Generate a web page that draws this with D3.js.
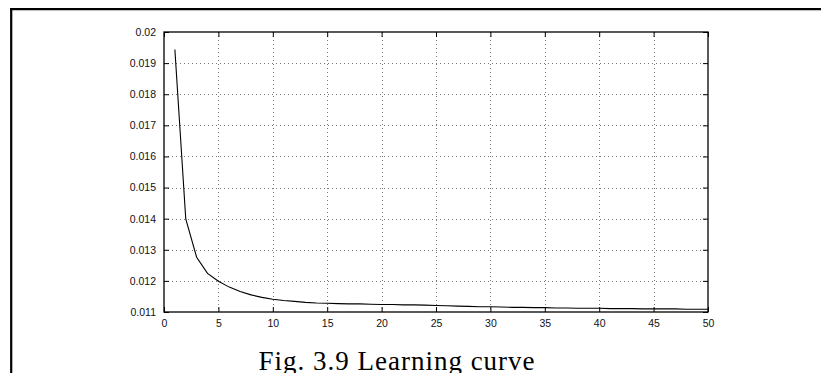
<!DOCTYPE html>
<html>
<head>
<meta charset="utf-8">
<script src="https://cdn.jsdelivr.net/npm/d3@7/dist/d3.min.js"></script>
<style>
  html, body { margin: 0; padding: 0; background: #fff; }
  svg { display: block; }
</style>
</head>
<body>
<svg id="chart" width="821" height="373"></svg>
<script>
// Training epochs and the mean error recorded after each one
const epochs = d3.range(1, 51);
const errorValues = [
  0.01944, 0.01399, 0.01276, 0.01224, 0.01199, 0.01180, 0.01166, 0.01155, 0.01147, 0.01141,
  0.01137, 0.01134, 0.01131, 0.01129, 0.01128, 0.01127, 0.01126, 0.01126, 0.01125, 0.01124,
  0.01124, 0.01123, 0.01123, 0.01122, 0.01121, 0.01120, 0.01119, 0.01118, 0.01117, 0.01117,
  0.01116, 0.01115, 0.01115, 0.01114, 0.01114, 0.01113, 0.01113, 0.01112, 0.01112, 0.01112,
  0.01111, 0.01111, 0.01111, 0.01110, 0.01110, 0.01110, 0.01110, 0.01109, 0.01109, 0.01109
];
const xTicks = [0, 5, 10, 15, 20, 25, 30, 35, 40, 45, 50];
const yTicks = [0.011, 0.012, 0.013, 0.014, 0.015, 0.016, 0.017, 0.018, 0.019, 0.02];
const caption = "Fig. 3.9 Learning curve";

const svg = d3.select("#chart");

// Page frame (top and left rules)
svg.append("line").attr("x1", 10).attr("x2", 821).attr("y1", 9.2).attr("y2", 9.2)
  .attr("stroke", "#000").attr("stroke-width", 2.2);
svg.append("line").attr("x1", 11.2).attr("x2", 11.2).attr("y1", 8).attr("y2", 373)
  .attr("stroke", "#000").attr("stroke-width", 2.2);

const plot = { left: 164, right: 708, top: 32, bottom: 312 };
const x = d3.scaleLinear().domain([0, 50]).range([plot.left, plot.right]);
const y = d3.scaleLinear().domain([0.011, 0.02]).range([plot.bottom, plot.top]);

const labelFont = "'Liberation Sans', Arial, Helvetica, sans-serif";

// Dotted grid
const grid = svg.append("g").attr("stroke", "#777").attr("stroke-width", 1)
  .attr("stroke-dasharray", "1,3");
grid.selectAll("line.gx").data(xTicks.slice(1, -1)).join("line")
  .attr("x1", d => Math.round(x(d)) + 0.5).attr("x2", d => Math.round(x(d)) + 0.5)
  .attr("y1", plot.top).attr("y2", plot.bottom);
grid.selectAll("line.gy").data(yTicks.slice(1, -1)).join("line")
  .attr("x1", plot.left).attr("x2", plot.right)
  .attr("y1", d => Math.round(y(d)) + 0.5).attr("y2", d => Math.round(y(d)) + 0.5);

// Axes with inward ticks on all four sides
const tickLen = 5;
const fmtY = d => d3.format("")(+d.toFixed(3));
svg.append("g").attr("transform", `translate(0,${plot.bottom})`)
  .call(d3.axisBottom(x).tickValues(xTicks).tickSizeInner(-tickLen).tickSizeOuter(0).tickPadding(8))
  .call(g => g.select(".domain").remove());
svg.append("g").attr("transform", `translate(${plot.left},0)`)
  .call(d3.axisLeft(y).tickValues(yTicks).tickFormat(fmtY).tickSizeInner(-tickLen).tickSizeOuter(0).tickPadding(8))
  .call(g => g.select(".domain").remove());
svg.append("g").attr("transform", `translate(0,${plot.top})`)
  .call(d3.axisTop(x).tickValues(xTicks).tickFormat("").tickSizeInner(-tickLen).tickSizeOuter(0))
  .call(g => g.select(".domain").remove());
svg.append("g").attr("transform", `translate(${plot.right},0)`)
  .call(d3.axisRight(y).tickValues(yTicks).tickFormat("").tickSizeInner(-tickLen).tickSizeOuter(0))
  .call(g => g.select(".domain").remove());

svg.selectAll(".tick line").attr("stroke", "#000").attr("stroke-width", 1);
svg.selectAll(".tick text").attr("font-family", labelFont).attr("font-size", 10.5).attr("fill", "#111");

// Plot box
svg.append("rect")
  .attr("x", plot.left).attr("y", plot.top)
  .attr("width", plot.right - plot.left).attr("height", plot.bottom - plot.top)
  .attr("fill", "none").attr("stroke", "#000").attr("stroke-width", 1.3);

// Learning curve
const line = d3.line().x((d, i) => x(epochs[i])).y(d => y(d));
svg.append("path").datum(errorValues)
  .attr("d", line).attr("fill", "none").attr("stroke", "#000").attr("stroke-width", 1.1);

// Caption
svg.append("text").attr("x", 397).attr("y", 370)
  .attr("text-anchor", "middle")
  .attr("font-family", "'Liberation Serif', 'Times New Roman', serif")
  .attr("font-size", 27).attr("letter-spacing", 1).attr("fill", "#000")
  .text(caption);
</script>
</body>
</html>
